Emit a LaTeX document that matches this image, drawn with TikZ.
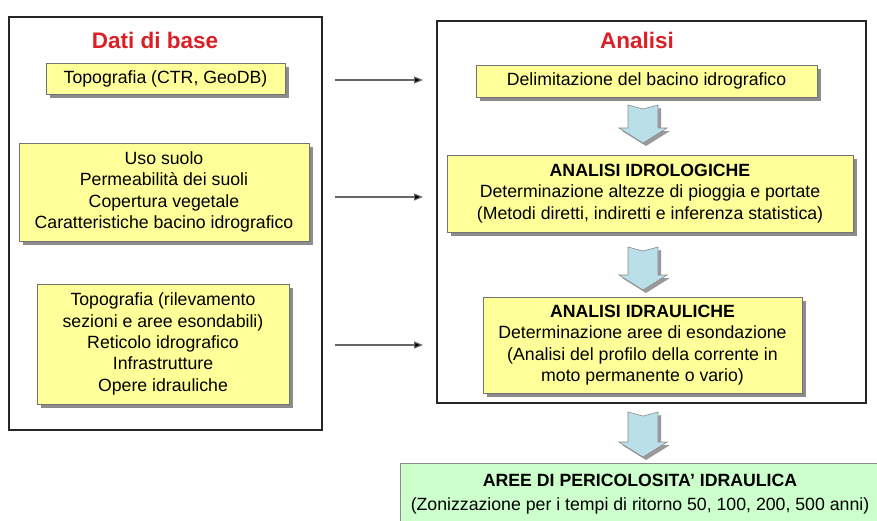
\documentclass[tikz,border=0pt]{standalone}
\usepackage{fontspec}
\setmainfont{Liberation Sans}
\usetikzlibrary{calc,shadows,arrows.meta}
\definecolor{boxyellow}{HTML}{FFFF99}
\definecolor{boxgreen}{HTML}{CCFFCC}
\definecolor{titlered}{HTML}{DA1F26}
\definecolor{arrowblue}{HTML}{B9DFE8}
\newcommand{\blockarrow}[2]{%
  \fill[black!40, transform canvas={shift={(3pt,-3pt)}}] ($(#1)+(-15,0)$) -- ($(#1)+(0,4)$) -- ($(#1)+(15,0)$) -- ($(#2)+(15,-15)$) -- ($(#2)+(24,-15)$) -- (#2) -- ($(#2)+(-24,-15)$) -- ($(#2)+(-15,-15)$) -- cycle;
  \draw[bastyle] ($(#1)+(-15,0)$) -- ($(#1)+(0,4)$) -- ($(#1)+(15,0)$) -- ($(#2)+(15,-15)$) -- ($(#2)+(24,-15)$) -- (#2) -- ($(#2)+(-24,-15)$) -- ($(#2)+(-15,-15)$) -- cycle;}
\begin{document}
\begin{tikzpicture}[x=1pt,y=-1pt,
  font=\fontsize{17.7}{21.3}\selectfont,
  frame/.style={draw=black!85, line width=1.5pt, inner sep=0pt},
  ybox/.style={draw=black!55, fill=boxyellow, line width=0.6pt, inner sep=0pt, align=center,
     drop shadow={shadow xshift=4pt, shadow yshift=-4pt, fill=black!45, opacity=1}},
  gbox/.style={draw=black!45, fill=boxgreen, line width=0.6pt, inner sep=0pt, align=center,
     font=\fontsize{17.7}{24}\selectfont},
  titletext/.style={text=titlered, font=\fontsize{22.5}{26}\selectfont\bfseries},
  harrow/.style={draw=black!60, line width=1.1pt, -{Triangle[length=9pt,width=7pt,fill=black]}},
  bastyle/.style={draw=black!45, fill=arrowblue, line width=0.6pt, line join=miter}]
\useasboundingbox (0,0) rectangle (877,520);
\clip (0,0) rectangle (877,520);

% outer frames
\node[frame, minimum width=313pt, minimum height=413pt] (lframe) at (165.5,223.5) {};
\node[frame, minimum width=429pt, minimum height=382pt] (rframe) at (651.5,212) {};

% titles
\node[titletext] (t1) at (155,40) {Dati di base};
\node[titletext] (t2) at (637,40) {Analisi};

% left boxes
\node[ybox, minimum width=239pt, minimum height=31pt] (topo) at (165.5,78.5) {Topografia (CTR, GeoDB)};
\node[ybox, minimum width=290pt, minimum height=98pt] (uso) at (164,192) {Uso suolo\\Permeabilità dei suoli\\Copertura vegetale\\Caratteristiche bacino idrografico};
\node[ybox, minimum width=252pt, minimum height=120pt] (rilev) at (163,344) {Topografia (rilevamento\\sezioni e aree esondabili)\\Reticolo idrografico\\Infrastrutture\\Opere idrauliche};

% right boxes
\node[ybox, minimum width=341pt, minimum height=32pt] (delim) at (646.5,81) {Delimitazione del bacino idrografico};
\node[ybox, minimum width=406pt, minimum height=77pt] (idrol) at (650,193.5) {\textbf{ANALISI IDROLOGICHE}\\Determinazione altezze di pioggia e portate\\(Metodi diretti, indiretti e inferenza statistica)};
\node[ybox, minimum width=319pt, minimum height=96pt] (idraul) at (642.5,345) {\textbf{ANALISI IDRAULICHE}\\Determinazione aree di esondazione\\(Analisi del profilo della corrente in\\moto permanente o vario)};

% result box
\node[gbox, minimum width=480pt, minimum height=62pt] (peric) at (640,494) {\textbf{AREE DI PERICOLOSITA’ IDRAULICA}\\(Zonizzazione per i tempi di ritorno 50, 100, 200, 500 anni)};

% horizontal arrows
\coordinate (h1s) at (335,80);  \coordinate (h1e) at (423,80);
\coordinate (h2s) at (335,197); \coordinate (h2e) at (423,197);
\coordinate (h3s) at (335,345); \coordinate (h3e) at (423,345);
\draw[harrow] (h1s) -- (h1e);
\draw[harrow] (h2s) -- (h2e);
\draw[harrow] (h3s) -- (h3e);

% block arrows
\coordinate (b1s) at (643,105); \coordinate (b1e) at (643,143);
\coordinate (b2s) at (643,247); \coordinate (b2e) at (643,290);
\coordinate (b3s) at (643,412); \coordinate (b3e) at (643,457);
\blockarrow{b1s}{b1e}
\blockarrow{b2s}{b2e}
\blockarrow{b3s}{b3e}
\end{tikzpicture}
\end{document}
